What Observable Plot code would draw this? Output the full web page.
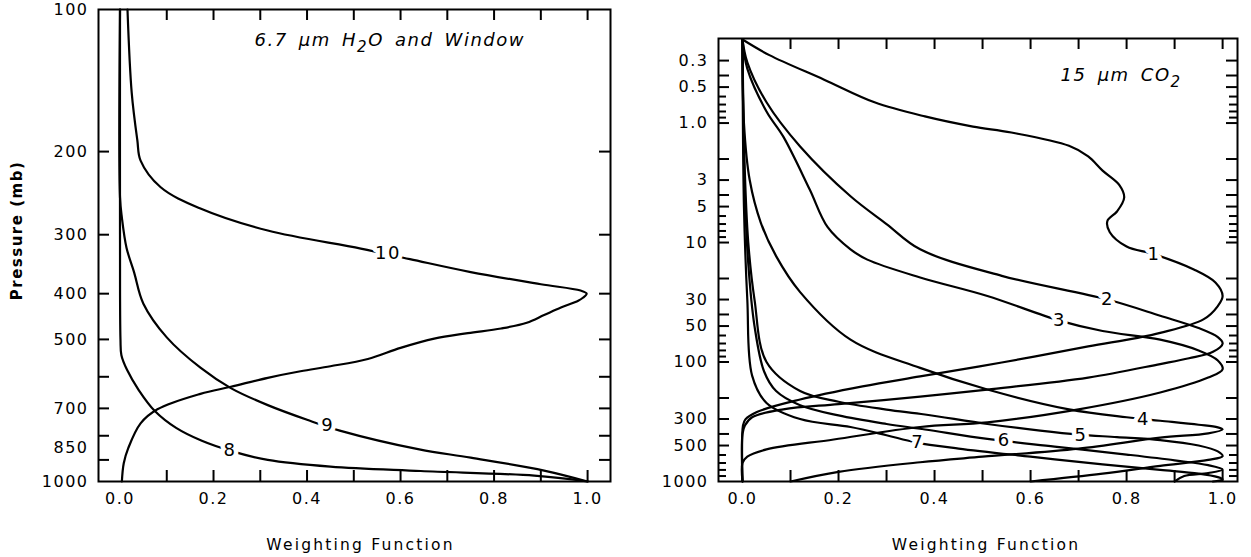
<!DOCTYPE html>
<html>
<head>
<meta charset="utf-8">
<script src="https://cdn.jsdelivr.net/npm/d3@7"></script>
<script src="https://cdn.jsdelivr.net/npm/@observablehq/plot@0.6"></script>
<style>
  html, body { margin: 0; padding: 0; background: #fff; }
  #wrap { position: relative; width: 1251px; height: 557px; overflow: hidden; }
  #left, #right { position: absolute; top: 0; }
  #left { left: 0; }
  #right { left: 640px; }
  svg text { font-family: "DejaVu Sans", sans-serif; }
</style>
</head>
<body>
<div id="wrap"><div id="left"></div><div id="right"></div></div>
<script>
// ---------------- data: left panel (6.7 um H2O and Window) ----------------
// pairs are [weighting function, pressure (mb)]
const ch8 = [[0,100],[0,300],[0.001,500],[0.003,540],[0.015,580],[0.04,640],[0.075,710],[0.12,770],[0.175,820],[0.235,860],[0.316,900],[0.45,930],[0.643,950],[0.886,972],[1.0,1000]];
const ch9 = [[0,100],[0,250],[0.004,276],[0.014,320],[0.03,360],[0.05,420],[0.1,495],[0.172,574],[0.237,634],[0.316,689],[0.4,740],[0.47,780],[0.64,855],[0.75,890],[0.907,948],[1.0,1000]];
const ch10 = [[0.016,100],[0.025,150],[0.037,189],[0.044,209],[0.087,238],[0.172,264],[0.316,294],[0.515,321],[0.62,338],[0.75,360],[0.9,382],[0.985,394],[0.998,400],[0.99,408],[0.98,414],[0.943,428],[0.907,444],[0.87,461],[0.815,474],[0.744,485],[0.672,498],[0.6,521],[0.53,550],[0.45,570],[0.386,584],[0.316,603],[0.237,630],[0.172,652],[0.08,703],[0.044,753],[0.018,848],[0.008,915],[0.004,1000]];
const leftCurveNames = ["8", "9", "10"];
const leftLabelW = [0.235, 0.444, 0.573];
const leftLabelP = [860, 761, 329];

const leftXTicks = [0.1,0.2,0.3,0.4,0.5,0.6,0.7,0.8,0.9,1.0];
const leftXLabels = [0,0.2,0.4,0.6,0.8,1.0];
const leftYTicks = [200,300,400,500,600,700,800,900];
const leftYLabels = [100,200,300,400,500,700,850,1000];
const leftTitle = "6.7 μm H2O and Window";

// ---------------- data: right panel (15 um CO2) ----------------
const ch1 = [[0,0.2],[0.056,0.27],[0.17,0.433],[0.275,0.67],[0.38,0.88],[0.48,1.07],[0.56,1.2],[0.68,1.55],[0.72,1.9],[0.75,2.5],[0.785,3.3],[0.795,4.2],[0.78,5.5],[0.76,6.6],[0.765,8.2],[0.80,10.8],[0.857,12.5],[0.94,16.8],[0.985,21.6],[1.0,28],[0.99,34],[0.96,44],[0.87,57],[0.82,63],[0.72,74],[0.54,101],[0.37,132],[0.25,160],[0.12,206],[0.03,262],[0.006,302],[0.001,340],[0,1000]];
const ch2 = [[0,0.2],[0.01,0.31],[0.05,0.67],[0.12,1.57],[0.225,4.1],[0.3,7],[0.37,11.4],[0.54,19],[0.76,30],[0.87,41],[0.95,52],[0.99,62],[1.0,70],[0.98,82],[0.93,93],[0.87,104],[0.72,135],[0.51,170],[0.37,195],[0.2,225],[0.085,249],[0.02,290],[0.005,340],[0,400],[0,1000]];
const ch3 = [[0,0.2],[0.01,0.35],[0.05,0.8],[0.085,1.3],[0.14,3.6],[0.177,7.4],[0.225,11.4],[0.26,13.9],[0.37,19.6],[0.51,28],[0.66,45],[0.75,55],[0.87,65],[0.95,80],[0.99,97],[1.0,115],[0.97,135],[0.87,180],[0.70,249],[0.51,320],[0.37,350],[0.19,445],[0.05,539],[0.01,620],[0,700],[0,1000]];
const ch4 = [[0,0.2],[0.003,1],[0.015,3],[0.038,6.8],[0.07,13],[0.12,26],[0.225,65],[0.37,112],[0.51,170],[0.68,249],[0.8,290],[0.87,310],[0.95,335],[0.99,352],[1.0,367],[0.97,395],[0.87,430],[0.70,530],[0.5,620],[0.37,690],[0.2,830],[0.1,1000]];
const ch5 = [[0,0.2],[0.004,2],[0.012,10],[0.025,30],[0.05,100],[0.12,175],[0.2,215],[0.3,250],[0.38,275],[0.51,330],[0.62,375],[0.70,405],[0.78,425],[0.87,450],[0.95,500],[0.99,560],[1.0,613],[0.97,660],[0.87,740],[0.75,860],[0.6,1000]];
const ch6 = [[0,0.2],[0.004,3],[0.012,15],[0.025,50],[0.045,120],[0.07,175],[0.12,230],[0.2,280],[0.3,330],[0.38,367],[0.51,440],[0.65,510],[0.8,595],[0.9,665],[0.97,730],[1.0,793],[0.97,850],[0.92,900],[0.9,1000]];
const ch7 = [[0,0.2],[0.003,5],[0.01,30],[0.02,130],[0.05,220],[0.12,300],[0.225,350],[0.3,410],[0.36,470],[0.45,530],[0.6,620],[0.75,720],[0.87,800],[0.95,860],[0.99,920],[1.0,960],[0.98,1000]];
const rightCurveNames = ["1","2","3","4","5","6","7"];
const rightLabelW = [0.857, 0.76, 0.66, 0.835, 0.705, 0.545, 0.365];
const rightLabelP = [12.5, 30, 45, 300, 410, 455, 472];

const rightXTicks = [0.1,0.2,0.3,0.4,0.5,0.6,0.7,0.8,0.9,1.0];
const rightXLabels = [0,0.2,0.4,0.6,0.8,1.0];
const rightYTicksLong = [0.3,0.4,0.5,1,2,3,4,5,10,20,30,40,50,100,200,300,400,500];
const rightYTicksShort = [0.6,0.7,0.8,0.9,6,7,8,9,60,70,80,90,600,700,800,900];
const rightYLabels = [0.3,0.5,1,3,5,10,30,50,100,300,500,1000];
const rightYLabelText = ["0.3","0.5","1.0","3","5","10","30","50","100","300","500","1000"];
const rightTitle = "15 μm CO2";

const xTitle = "Weighting Function";
const yTitle = "Pressure (mb)";

// ---------------- build ----------------
function toRows(curves, names) {
  const rows = [];
  curves.forEach((c, i) => c.forEach(([w, p]) => rows.push({ch: names[i], w, p})));
  return rows;
}

function panel(cfg) {
  const fw = cfg.width - cfg.ml - cfg.mr;
  const fh = cfg.height - cfg.mt - cfg.mb;
  const T = 11, t = 8;
  const marks = [
    Plot.line(cfg.rows, {x: "w", y: "p", z: "ch", curve: "catmull-rom", stroke: "black", strokeWidth: 2.2, strokeLinejoin: "round"}),
    Plot.text(cfg.labels, {x: "w", y: "p", text: "t", fontSize: 18, fill: "black", stroke: "white", strokeWidth: 9, paintOrder: "stroke"}),
    Plot.frame({stroke: "black", strokeWidth: 2}),
    Plot.tickX(cfg.xTicks, {x: d => d, insetTop: fh - T, strokeWidth: 2}),
    Plot.tickX(cfg.xTicks, {x: d => d, insetBottom: fh - T, strokeWidth: 2}),
    Plot.tickY(cfg.yTicksLong, {y: d => d, insetRight: fw - T, strokeWidth: 2}),
    Plot.tickY(cfg.yTicksLong, {y: d => d, insetLeft: fw - T, strokeWidth: 2}),
    Plot.tickY(cfg.yTicksShort, {y: d => d, insetRight: fw - t, strokeWidth: 2}),
    Plot.tickY(cfg.yTicksShort, {y: d => d, insetLeft: fw - t, strokeWidth: 2}),
    Plot.text(cfg.xLabels, {x: d => d, text: d => d.toFixed(1), frameAnchor: "bottom", lineAnchor: "middle", dy: 17, fontSize: 16}),
    Plot.text(cfg.yLabels, {y: d => d, text: (d, i) => cfg.yLabelText[i], frameAnchor: "left", textAnchor: "end", lineAnchor: "middle", dx: -10, fontSize: 16}),
    Plot.text([xTitle], {frameAnchor: "bottom", textAnchor: "middle", lineAnchor: "middle", dx: cfg.xTitleDx, dy: 64, fontSize: 15.5}),
    Plot.text([cfg.title], {frameAnchor: "top-left", textAnchor: "start", lineAnchor: "middle", dx: cfg.titleDx, dy: cfg.titleDy, fontSize: 18, fontStyle: "italic"})
  ];
  if (cfg.yTitle) {
    marks.push(Plot.text([yTitle], {frameAnchor: "left", textAnchor: "middle", lineAnchor: "middle", rotate: -90, dx: -81, dy: -15, fontSize: 15, fontWeight: "bold"}));
  }
  const svg = Plot.plot({
    width: cfg.width, height: cfg.height,
    marginLeft: cfg.ml, marginRight: cfg.mr, marginTop: cfg.mt, marginBottom: cfg.mb,
    style: {background: "white", color: "black", overflow: "visible"},
    x: {type: "linear", domain: cfg.xDomain, axis: null},
    y: {type: "log", domain: cfg.yDomain, reverse: true, axis: null},
    marks
  });
  // typographic touches, identified by content
  const ns = "http://www.w3.org/2000/svg";
  svg.querySelectorAll("text").forEach(el => {
    const s = el.textContent;
    if (s === cfg.title) {
      el.style.letterSpacing = "1.5px";
      el.style.wordSpacing = "4px";
      const m = s.match(/^(.*[A-Z])(2)(.*)$/);
      if (m) {
        el.textContent = "";
        const a = document.createElementNS(ns, "tspan"); a.textContent = m[1];
        const b = document.createElementNS(ns, "tspan"); b.textContent = m[2]; b.setAttribute("dy", "6"); b.setAttribute("font-size", "15");
        el.append(a, b);
        if (m[3]) {
          const c = document.createElementNS(ns, "tspan"); c.textContent = m[3]; c.setAttribute("dy", "-6");
          el.append(c);
        }
      }
    } else if (s === xTitle) {
      el.style.letterSpacing = "2.2px";
    } else if (s === yTitle) {
      el.style.letterSpacing = "1.5px";
    } else if (/^[0-9.]+$/.test(s)) {
      el.style.letterSpacing = "1.5px";
    }
  });
  return svg;
}

const leftLabels = leftCurveNames.map((t, i) => ({t, w: leftLabelW[i], p: leftLabelP[i]}));
const rightLabels = rightCurveNames.map((t, i) => ({t, w: rightLabelW[i], p: rightLabelP[i]}));

document.getElementById("left").append(panel({
  width: 640, height: 557, ml: 98, mr: 30, mt: 9, mb: 76,
  xDomain: [-0.046, 1.049], yDomain: [100, 1000],
  rows: toRows([ch8, ch9, ch10], leftCurveNames), labels: leftLabels,
  xTicks: leftXTicks, xLabels: leftXLabels,
  yTicksLong: leftYTicks, yTicksShort: [],
  yLabels: leftYLabels, yLabelText: leftYLabels.map(String),
  title: leftTitle, titleDx: 156, titleDy: 31, xTitleDx: 6, yTitle: true
}));

document.getElementById("right").append(panel({
  width: 611, height: 557, ml: 78, mr: 14, mt: 38, mb: 76,
  xDomain: [-0.05, 1.031], yDomain: [0.196, 1000],
  rows: toRows([ch1, ch2, ch3, ch4, ch5, ch6, ch7], rightCurveNames), labels: rightLabels,
  xTicks: rightXTicks, xLabels: rightXLabels,
  yTicksLong: rightYTicksLong, yTicksShort: rightYTicksShort,
  yLabels: rightYLabels, yLabelText: rightYLabelText,
  title: rightTitle, titleDx: 342, titleDy: 37, xTitleDx: 8, yTitle: false
}));
</script>
</body>
</html>
